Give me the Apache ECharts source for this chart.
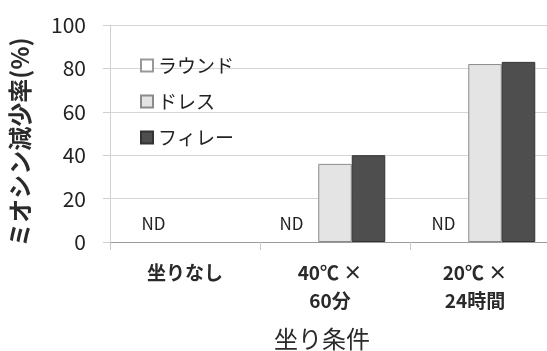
<!DOCTYPE html>
<html>
<head>
<meta charset="utf-8">
<script src="https://cdn.jsdelivr.net/npm/echarts@6/dist/echarts.min.js"></script>
<style>
  html, body { margin: 0; padding: 0; background: #fff; overflow: hidden; }
  /* the plot runs a little past the right edge of the window */
  #chart { width: 560px; height: 351px; }
</style>
</head>
<body>
<div id="chart"></div>
<script>
// Myosin reduction rate by setting ("suwari") condition
var categories = ['坐りなし', '40℃ ×\n60分', '20℃ ×\n24時間'];
var seriesNames = ['ラウンド', 'ドレス', 'フィレー'];
var roundValues = [0, 0, 0];       // not detected (ND)
var dressValues = [0, 36, 82];
var filletValues = [0, 40, 83];
var yTicks = [0, 20, 40, 60, 80, 100];

var FONT = '"Noto Sans CJK JP", "Noto Sans", sans-serif';

// small horizontal nudges for the category captions and the ND notes
var captionShift = [0, 10, 20];     // right padding per category caption
var ndShift = [2, -10, -8];         // x offset of the ND note per category

var chart = echarts.init(document.getElementById('chart'));

// zero-valued bars get no outline so nothing shows on the baseline
function barData(values) {
  return values.map(function (v) {
    return v === 0 ? { value: v, itemStyle: { borderWidth: 0 } } : v;
  });
}

var captionRich = {};
captionShift.forEach(function (p, i) {
  captionRich['c' + i] = {
    fontFamily: FONT,
    fontSize: 19,
    fontWeight: 'bold',
    lineHeight: 28,
    color: '#2a2a2a',
    padding: [0, p, 0, 0]
  };
});

chart.setOption({
  animation: false,
  backgroundColor: '#ffffff',
  grid: { left: 110, top: 25, right: 0, height: 217 },
  legend: {
    orient: 'vertical',
    left: 135,
    top: 50,
    icon: 'rect',
    itemWidth: 12,
    itemHeight: 12,
    itemGap: 15,
    data: seriesNames,
    textStyle: { fontFamily: FONT, fontSize: 19, color: '#222', lineHeight: 21 }
  },
  xAxis: {
    type: 'category',
    data: categories,
    axisLine: { lineStyle: { color: '#9a9a9a', width: 1 } },
    axisTick: { show: true, length: 8, lineStyle: { color: '#c8c8c8' } },
    axisLabel: {
      margin: 17,
      lineHeight: 28,
      formatter: function (value, index) {
        return value.split('\n').map(function (line) {
          return '{c' + index + '|' + line + '}';
        }).join('\n');
      },
      rich: captionRich
    }
  },
  yAxis: {
    type: 'value',
    min: yTicks[0],
    max: yTicks[yTicks.length - 1],
    interval: 20,
    axisLine: { show: true, lineStyle: { color: '#d0d0d0' } },
    axisTick: { show: true, length: 7, lineStyle: { color: '#d0d0d0' } },
    splitLine: { lineStyle: { color: '#d6d6d6' } },
    axisLabel: { margin: 24, fontFamily: FONT, fontSize: 21, color: '#222' }
  },
  series: [
    {
      name: seriesNames[0],
      type: 'bar',
      barWidth: 33.5,
      barGap: '0%',
      itemStyle: { color: '#ffffff', borderColor: '#999', borderWidth: 1, borderType: 'dotted' },
      label: {
        show: true,
        position: 'top',
        distance: 10,
        formatter: 'ND',
        fontFamily: FONT,
        fontSize: 17,
        color: '#222'
      },
      data: roundValues.map(function (v, i) {
        return {
          value: v,
          itemStyle: { borderWidth: 0 },
          label: { offset: [ndShift[i], 0] }
        };
      })
    },
    {
      name: seriesNames[1],
      type: 'bar',
      barWidth: 33.5,
      barGap: '0%',
      itemStyle: { color: '#e4e4e4', borderColor: '#8a8a8a', borderWidth: 1 },
      data: barData(dressValues)
    },
    {
      name: seriesNames[2],
      type: 'bar',
      barWidth: 33.5,
      barGap: '0%',
      itemStyle: { color: '#4e4e4e', borderColor: '#333', borderWidth: 1 },
      data: barData(filletValues)
    }
  ],
  graphic: [
    {
      type: 'text',
      x: 20,
      y: 142,
      rotation: Math.PI / 2,
      style: {
        text: 'ミオシン減少率(%)',
        fontFamily: FONT,
        fontSize: 24,
        fontWeight: 'bold',
        fill: '#2a2a2a',
        textAlign: 'center',
        textVerticalAlign: 'middle'
      }
    },
    {
      type: 'text',
      x: 322,
      y: 339,
      style: {
        text: '坐り条件',
        fontFamily: FONT,
        fontSize: 24,
        fill: '#2a2a2a',
        textAlign: 'center',
        textVerticalAlign: 'middle'
      }
    }
  ]
});
</script>
</body>
</html>
